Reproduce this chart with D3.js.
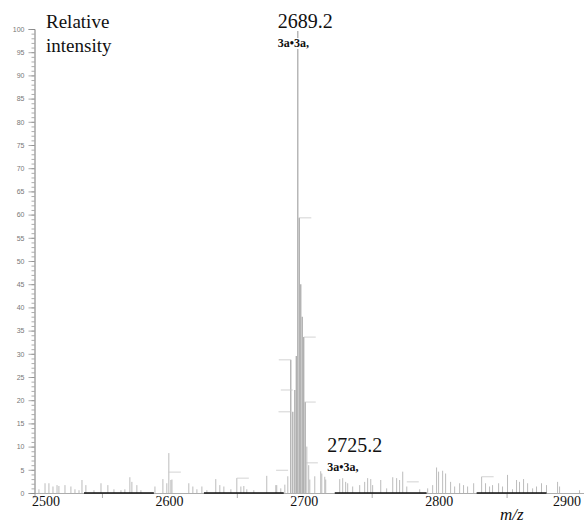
<!DOCTYPE html>
<html>
<head>
<meta charset="utf-8">
<script src="https://cdn.jsdelivr.net/npm/d3@7"></script>
<style>
  body { margin: 0; background: #fff; }
  svg { display: block; }
</style>
</head>
<body>
<div id="chart"></div>
<script>
// peak list: m/z and relative intensity (%)
const peakMz = [
  2503.3, 2507.8, 2510.7, 2513.7, 2516.7, 2518.1, 2522.6, 2527.0, 2530.0, 2533.0,
  2535.2, 2538.1, 2544.1, 2549.3, 2554.4, 2558.9, 2564.1, 2567.0, 2570.7, 2572.2,
  2575.9, 2578.9, 2589.3, 2595.2, 2598.1, 2599.6, 2601.1, 2601.9, 2614.4, 2617.4,
  2620.4, 2624.1, 2627.8, 2634.4, 2637.4, 2640.4, 2645.6, 2650.0, 2653.0, 2655.2,
  2657.4, 2662.6, 2672.2, 2678.9, 2679.6, 2682.6, 2685.6, 2687.8,
  2690.0, 2691.5, 2693.0, 2694.1, 2695.2, 2696.3, 2697.4, 2698.5, 2699.6, 2700.7,
  2701.9, 2703.3, 2704.1, 2707.8, 2712.2, 2713.0, 2715.2, 2715.9,
  2726.3, 2728.5, 2730.7, 2732.2, 2735.9, 2741.1, 2744.8, 2747.0, 2749.3, 2750.7,
  2756.7, 2761.1, 2765.6, 2768.5, 2770.7, 2773.0, 2776.0, 2785.6, 2791.5, 2795.2,
  2798.1, 2799.6, 2802.6, 2804.8, 2808.5, 2811.5, 2815.2, 2818.1, 2821.1, 2825.6,
  2831.5, 2834.4, 2837.4, 2839.6, 2844.1, 2847.0, 2850.7, 2854.4, 2857.4, 2859.6,
  2862.6, 2865.6, 2869.3, 2872.2, 2875.9, 2879.6, 2887.8, 2889.3, 2904.1
];
const peakIntensity = [
  0.8, 2.1, 2.1, 1.4, 1.7, 1.5, 1.7, 1.4, 0.8, 0.6,
  2.8, 1.7, 0.6, 2.1, 1.7, 0.8, 0.6, 0.8, 3.4, 2.4,
  1.7, 0.6, 1.4, 3.0, 2.1, 8.6, 2.8, 2.9, 2.1, 1.4,
  0.8, 1.4, 0.6, 3.0, 1.7, 1.4, 0.8, 3.2, 1.4, 1.5,
  0.8, 0.6, 3.7, 1.7, 1.7, 1.0, 1.8, 3.6,
  28.7, 17.5, 22.2, 29.5, 100, 59.3, 45.0, 38.0, 33.6, 19.6,
  10.0, 6.0, 2.9, 3.6, 4.7, 4.2, 3.5, 2.9,
  3.0, 3.2, 2.4, 2.1, 1.4, 1.7, 2.4, 3.2, 3.0, 1.7,
  2.8, 1.0, 3.4, 3.2, 2.8, 4.6, 1.4, 0.8, 1.0, 1.7,
  5.5, 4.6, 4.8, 4.2, 2.4, 1.4, 2.1, 1.7, 1.4, 2.1,
  3.5, 2.1, 1.4, 1.7, 2.1, 1.4, 3.9, 0.8, 2.8, 2.4,
  3.0, 2.1, 1.0, 1.4, 2.1, 1.7, 2.4, 1.4, 0.6
];

// short horizontal annotation ticks: m/z, intensity, direction (+1 right, -1 left)
const leaderMz = [2696.3, 2690.0, 2691.5, 2689.8, 2699.6, 2699.6, 2701.2, 2688.0, 2599.6, 2650.0, 2776.0, 2831.5];
const leaderIntensity = [59.3, 28.7, 22.2, 17.5, 33.6, 19.6, 6.5, 4.9, 4.5, 3.2, 2.4, 3.5];
const leaderDir = [1, -1, -1, -1, 1, 1, 1, -1, 1, 1, 1, 1];

// darker stretches along the baseline (m/z start, end)
const baseStart = [2536.7, 2625.6, 2722.6, 2827.8];
const baseEnd = [2588.5, 2684.8, 2790.7, 2879.6];

const xTickLabels = [2500, 2600, 2700, 2800, 2900];
const xMinorTicks = [2550, 2650, 2750, 2850];
const yMajorTicks = d3.range(0, 101, 5);
const yMinorTicks = d3.range(0, 101, 1);

const peakLabels = ["2689.2", "2725.2"];
const peakLabelMz = [2695.2, 2725.2];
const peakLabelIntensity = [100, 4.7];
const peakNotes = ["3a\u20223a,", "3a\u20223a,"];

const width = 584, height = 524;
const margin = { left: 34.5, right: 0, top: 29, bottom: 31 };
const serif = "Liberation Serif";

const svg = d3.select("#chart").append("svg")
  .attr("width", width)
  .attr("height", height);

const x = d3.scaleLinear()
  .domain([2500, 2907.4])
  .range([margin.left, width - margin.right]);
const y = d3.scaleLinear()
  .domain([0, 100])
  .range([height - margin.bottom, margin.top]);

const axisColour = "#8a8a8a";

// y axis: minor then major ticks
const yMinor = svg.append("g")
  .attr("transform", `translate(${margin.left},0)`)
  .call(d3.axisLeft(y).tickValues(yMinorTicks).tickSize(3).tickFormat(""));
const yMajor = svg.append("g")
  .attr("transform", `translate(${margin.left},0)`)
  .call(d3.axisLeft(y).tickValues(yMajorTicks).tickSize(6).tickPadding(4));
[yMinor, yMajor].forEach(g => {
  g.selectAll("path, line").attr("stroke", axisColour).attr("stroke-width", 0.7);
});
yMajor.attr("font-family", "Liberation Sans").attr("font-size", 7);
yMajor.selectAll("text").attr("fill", "#777");

// peaks
const peaks = peakMz.map((mz, i) => ({ mz, v: peakIntensity[i] }));
svg.append("g").selectAll("line")
  .data(peaks)
  .join("line")
  .attr("x1", d => x(d.mz))
  .attr("x2", d => x(d.mz))
  .attr("y1", y(0))
  .attr("y2", d => y(d.v))
  .attr("stroke", d => d.v > 15 ? "#acacac" : "#bcbcbc")
  .attr("stroke-width", d => d.v > 15 ? 1.3 : 1);

// annotation ticks
svg.append("g").selectAll("line")
  .data(leaderMz.map((mz, i) => ({ mz, v: leaderIntensity[i], dir: leaderDir[i] })))
  .join("line")
  .attr("x1", d => x(d.mz))
  .attr("x2", d => x(d.mz) + d.dir * 12)
  .attr("y1", d => y(d.v))
  .attr("y2", d => y(d.v))
  .attr("stroke", "#c8c8c8")
  .attr("stroke-width", 0.8);

// x axis baseline + minor ticks
const xAxis = svg.append("g")
  .attr("transform", `translate(0,${y(0)})`)
  .call(d3.axisBottom(x).tickValues(xMinorTicks).tickSize(5).tickFormat(""));
xAxis.selectAll("path, line").attr("stroke", axisColour).attr("stroke-width", 0.7);

svg.append("g").selectAll("line")
  .data(baseStart.map((s, i) => [s, baseEnd[i]]))
  .join("line")
  .attr("x1", d => x(d[0]))
  .attr("x2", d => x(d[1]))
  .attr("y1", y(0))
  .attr("y2", y(0))
  .attr("stroke", "#111")
  .attr("stroke-width", 1.6);

svg.append("g").selectAll("text")
  .data(xTickLabels)
  .join("text")
  .attr("x", d => Math.min(Math.max(x(d), 46), 567))
  .attr("y", y(0) + 13)
  .attr("text-anchor", "middle")
  .attr("font-family", serif)
  .attr("font-size", 14)
  .attr("fill", "#111")
  .text(d => d);

// peak labels with white backing
const labelGroup = svg.append("g");
function backedText(tx, ty, txt, size, weight) {
  const t = labelGroup.append("text")
    .attr("x", tx).attr("y", ty)
    .attr("font-family", serif)
    .attr("font-size", size)
    .attr("font-weight", weight)
    .attr("fill", "#111")
    .text(txt);
  const b = t.node().getBBox();
  labelGroup.insert("rect", "text")
    .attr("x", b.x - 1).attr("y", b.y + 2)
    .attr("width", b.width + 2).attr("height", b.height - 3)
    .attr("fill", "#fff");
}
peakLabels.forEach((lab, i) => {
  const lx = x(peakLabelMz[i]) - (i === 0 ? 20 : 11);
  const ly = i === 0 ? y(peakLabelIntensity[i]) - 1 : 452;
  backedText(lx, ly, lab, 20, "normal");
  backedText(lx, ly + 19, peakNotes[i], 12, "bold");
});

// titles
svg.append("text")
  .attr("x", 46).attr("y", 28)
  .attr("font-family", serif)
  .attr("font-size", 19)
  .attr("fill", "#111")
  .selectAll("tspan")
  .data(["Relative", "intensity"])
  .join("tspan")
  .attr("x", 46)
  .attr("dy", (d, i) => i ? 24 : 0)
  .text(d => d);

svg.append("text")
  .attr("x", 500).attr("y", 520)
  .attr("font-family", serif)
  .attr("font-size", 17)
  .attr("font-style", "italic")
  .attr("fill", "#111")
  .text("m/z");
</script>
</body>
</html>
